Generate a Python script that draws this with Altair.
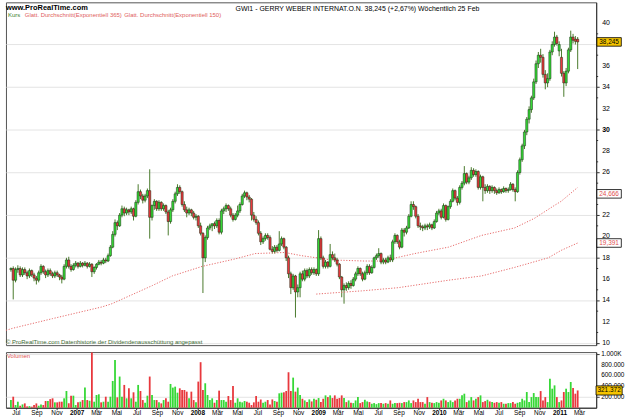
import altair as alt
import pandas as pd

# ---------------- data (weekly candles, GWI1) ----------------
opens = [16.9,17.0,15.9,16.9,17.0,16.4,16.9,16.6,16.3,16.8,
         16.4,16.1,15.9,16.6,17.2,16.7,16.4,16.8,16.5,16.3,
         16.6,16.4,16.2,16.0,17.2,17.8,17.2,16.9,17.3,17.5,
         17.2,17.5,17.3,17.5,17.2,17.4,16.7,17.1,17.4,17.6,
         17.5,17.8,17.7,18.2,19.0,20.2,21.3,21.0,22.0,22.6,
         22.2,22.5,22.3,22.6,21.9,23.2,24.2,23.8,23.4,23.8,
         24.3,21.8,22.9,23.3,22.6,23.2,22.6,22.9,22.3,21.4,
         22.5,23.3,24.0,24.6,24.2,23.0,22.5,22.2,22.5,22.2,
         21.8,21.9,21.0,20.3,18.0,19.9,20.8,21.0,21.2,21.0,
         21.5,20.4,22.4,22.6,22.9,22.6,22.0,21.6,22.0,22.4,
         23.0,23.8,24.1,23.7,23.5,22.0,21.6,21.3,20.3,19.5,
         19.8,20.1,19.9,18.8,18.6,19.0,18.7,19.3,19.8,19.0,
         18.0,16.5,15.2,16.3,14.8,15.2,16.5,16.0,16.8,16.3,
         16.9,16.6,16.9,16.5,19.8,18.0,17.2,17.6,17.2,18.3,
         18.0,17.8,17.4,16.2,15.0,15.4,15.2,15.6,15.4,16.0,
         16.5,17.0,16.5,16.0,16.6,17.2,16.6,17.1,18.0,18.2,
         18.4,17.6,17.8,17.6,18.0,17.8,19.5,20.1,19.5,19.0,
         20.6,20.4,20.8,21.9,23.0,22.8,21.9,21.0,20.9,20.8,
         21.0,20.9,21.1,20.8,21.4,22.2,22.4,21.8,22.9,21.6,
         22.8,23.3,24.3,23.6,23.2,24.6,25.0,25.9,25.1,25.5,
         26.2,25.8,26.1,24.6,25.6,24.6,24.3,24.7,24.3,24.6,
         24.3,24.1,24.4,24.2,24.5,24.3,24.4,24.9,24.4,24.2,
         26.0,27.2,28.5,29.8,31.0,31.9,33.0,34.5,36.2,37.0,
         36.8,35.2,34.4,34.8,37.3,38.0,38.7,37.4,36.8,35.3,
         34.4,35.5,37.5,38.7,38.5,38.5]
highs = [17.1,17.2,17.1,17.3,17.2,17.1,17.1,16.8,17.0,16.9,
         16.6,16.3,16.8,17.4,17.3,16.9,17.0,17.0,16.7,16.8,
         16.8,16.5,16.4,17.4,18.0,18.1,17.4,17.5,17.7,17.6,
         17.7,17.6,17.7,17.6,17.6,17.5,17.2,17.5,17.8,17.8,
         18.0,18.0,18.4,19.2,20.5,21.6,21.5,22.2,22.9,22.8,
         22.7,22.6,22.8,22.7,23.4,24.9,24.4,24.0,24.0,24.5,
         26.3,23.0,23.5,23.4,23.4,23.3,23.1,23.0,22.5,22.7,
         23.5,24.2,24.9,24.8,24.3,23.3,22.8,22.7,22.6,22.4,
         22.1,22.0,21.3,20.4,20.1,21.0,21.2,21.2,21.4,21.7,
         21.7,22.6,22.8,23.1,23.0,22.8,22.2,22.2,22.9,23.2,
         24.0,24.3,24.2,23.9,23.6,22.3,21.9,21.5,20.5,20.0,
         20.3,20.3,20.1,19.1,19.2,19.2,20.5,20.0,19.9,19.1,
         18.2,16.7,16.5,16.4,15.5,16.7,16.8,17.0,17.0,17.1,
         17.1,17.1,17.0,20.6,20.0,18.2,17.8,17.7,19.3,18.6,
         18.4,18.0,17.5,16.3,15.6,15.7,15.8,15.9,16.2,16.7,
         17.2,17.1,16.7,16.8,17.4,17.4,17.3,18.1,18.4,18.9,
         18.5,18.0,18.0,18.2,18.3,19.7,20.3,20.2,19.7,20.8,
         20.8,21.0,22.1,23.3,23.3,22.9,22.1,21.3,21.1,21.2,
         21.2,21.3,21.2,21.6,22.4,22.6,22.6,23.1,23.0,22.9,
         23.5,24.5,24.4,23.8,24.8,25.2,26.6,26.0,25.7,26.5,
         26.4,26.3,26.2,25.8,25.7,24.9,24.9,24.8,24.8,24.7,
         24.5,24.6,24.5,24.7,24.6,24.6,25.1,25.0,24.6,26.2,
         27.4,28.7,30.0,31.2,32.2,33.2,34.8,36.5,37.3,37.6,
         37.1,35.6,35.3,37.5,38.3,39.2,38.9,38.3,37.6,35.5,
         35.8,37.7,39.3,39.0,38.8,38.7]
lows = [16.7,14.1,15.7,16.6,16.2,16.2,16.4,16.0,16.1,16.2,
        15.8,15.5,15.7,16.4,16.5,16.1,16.2,16.3,16.1,16.1,
        16.2,15.9,15.6,15.9,17.0,17.0,16.7,16.8,17.1,17.0,
        17.1,17.1,17.2,17.0,17.1,16.2,16.5,16.9,17.3,17.3,
        17.4,17.5,17.6,18.1,18.9,20.0,20.6,20.9,21.8,21.9,
        22.0,22.0,22.1,21.5,21.8,23.0,23.5,23.1,23.2,23.6,
        19.8,21.5,22.5,22.4,22.4,22.4,22.4,22.1,20.1,21.2,
        22.3,23.1,23.8,24.0,22.8,22.3,21.8,22.0,21.9,21.6,
        21.5,20.8,20.1,14.7,17.6,19.7,20.6,20.5,20.7,20.8,
        20.2,20.2,22.1,22.3,22.4,21.8,21.4,21.5,21.8,22.2,
        22.9,23.6,23.4,23.2,21.5,21.4,21.1,20.1,19.2,19.3,
        19.6,19.7,18.7,18.4,18.4,18.5,18.6,19.1,18.8,17.7,
        16.1,14.6,15.0,12.4,14.3,14.3,15.8,15.8,16.1,16.1,
        16.4,16.4,16.3,16.3,17.8,17.0,17.0,17.0,17.1,17.8,
        17.6,17.2,16.0,14.3,13.7,14.9,15.0,15.1,15.3,15.8,
        16.3,16.3,15.8,15.9,16.4,16.4,16.5,17.0,17.8,18.0,
        17.4,17.4,17.4,17.5,17.6,17.6,19.3,19.3,18.8,18.9,
        20.0,20.2,20.7,21.8,22.5,21.7,20.8,20.6,20.5,20.6,
        20.6,20.7,20.6,20.7,21.3,22.0,21.6,21.7,21.4,21.5,
        22.6,23.2,23.4,22.9,23.0,24.4,24.8,24.9,24.9,25.3,
        25.6,25.6,24.4,24.4,23.3,24.0,24.1,24.0,24.1,24.0,
        23.9,24.0,24.0,24.1,24.1,24.1,24.3,24.2,23.3,24.1,
        25.8,27.0,28.2,29.5,30.6,31.6,32.8,34.3,35.8,36.3,
        34.9,33.8,34.0,34.6,37.0,37.8,37.9,36.9,35.0,33.1,
        34.1,35.3,37.3,38.1,38.0,35.7]
closes = [17.0,15.9,16.9,17.0,16.4,16.9,16.6,16.3,16.8,16.4,
          16.1,15.9,16.6,17.2,16.7,16.4,16.8,16.5,16.3,16.6,
          16.4,16.2,16.0,17.2,17.8,17.2,16.9,17.3,17.5,17.2,
          17.5,17.3,17.5,17.2,17.4,16.7,17.1,17.4,17.6,17.5,
          17.8,17.7,18.2,19.0,20.2,21.3,21.0,22.0,22.6,22.2,
          22.5,22.3,22.6,21.9,23.2,24.2,23.8,23.4,23.8,24.3,
          21.8,22.9,23.3,22.6,23.2,22.6,22.9,22.3,21.4,22.5,
          23.3,24.0,24.6,24.2,23.0,22.5,22.2,22.5,22.2,21.8,
          21.9,21.0,20.3,18.0,19.9,20.8,21.0,21.2,21.0,21.5,
          20.4,22.4,22.6,22.9,22.6,22.0,21.6,22.0,22.4,23.0,
          23.8,24.1,23.7,23.5,22.0,21.6,21.3,20.3,19.5,19.8,
          20.1,19.9,18.8,18.6,19.0,18.7,19.3,19.8,19.0,18.0,
          16.5,15.2,16.3,14.8,15.2,16.5,16.0,16.8,16.3,16.9,
          16.6,16.9,16.5,19.8,18.0,17.2,17.6,17.2,18.3,18.0,
          17.8,17.4,16.2,15.0,15.4,15.2,15.6,15.4,16.0,16.5,
          17.0,16.5,16.0,16.6,17.2,16.6,17.1,18.0,18.2,18.4,
          17.6,17.8,17.6,18.0,17.8,19.5,20.1,19.5,19.0,20.6,
          20.4,20.8,21.9,23.0,22.8,21.9,21.0,20.9,20.8,21.0,
          20.9,21.1,20.8,21.4,22.2,22.4,21.8,22.9,21.6,22.8,
          23.3,24.3,23.6,23.2,24.6,25.0,25.9,25.1,25.5,26.2,
          25.8,26.1,24.6,25.6,24.6,24.3,24.7,24.3,24.6,24.3,
          24.1,24.4,24.2,24.5,24.3,24.4,24.9,24.4,24.2,26.0,
          27.2,28.5,29.8,31.0,31.9,33.0,34.5,36.2,37.0,36.8,
          35.2,34.4,34.8,37.3,38.0,38.7,38.1,38.0,35.3,34.4,
          35.5,37.5,38.7,38.4,38.3,38.245]
volumes_k = [143,205,50,112,37,62,81,25,30,20,
             50,80,37,62,50,125,125,160,175,100,
             100,112,112,175,311,81,224,224,50,100,
             112,143,374,143,130,1028,112,237,250,100,
             112,205,112,205,498,890,193,580,205,424,
             175,361,175,287,112,424,311,143,93,224,
             580,237,143,143,100,81,143,175,112,442,
             374,392,280,361,330,330,299,175,299,143,
             100,486,847,330,455,237,143,175,93,143,
             318,143,143,112,218,143,405,93,175,112,
             100,125,112,93,50,100,218,112,155,93,
             112,143,62,155,125,112,268,280,287,311,
             660,311,560,299,374,237,
             167,136,105,155,117,167,148,180,105,167,
             230,198,230,180,230,167,180,230,180,105,
             136,92,86,136,198,86,105,148,117,105,
             74,86,67,86,86,74,86,74,136,74,
             86,86,92,86,105,105,136,86,136,105,
             167,105,105,74,198,105,92,86,105,92,
             136,167,136,105,136,105,136,167,167,230,
             261,105,136,198,136,167,198,230,105,123,
             148,117,105,92,105,92,105,74,74,86,
             86,105,74,92,105,167,136,292,105,198,
             273,198,198,310,136,198,105,541,354,416,
             198,105,136,292,354,292,479,366,261,321.372]

ema365_dates = ["2006-06-01", "2006-06-22", "2006-10-20", "2007-03-19", "2007-04-18",
                "2007-08-18", "2007-10-17", "2008-01-16", "2008-04-25", "2008-06-24",
                "2008-09-22", "2008-11-12", "2009-02-11", "2009-05-21", "2009-07-12",
                "2009-10-20", "2010-01-30", "2010-05-10", "2010-08-18", "2010-10-17",
                "2010-12-16", "2011-01-06", "2011-02-25"]
ema365_values = [11.2, 11.4, 12.3, 13.4, 13.7, 15.4, 16.3, 17.2, 17.9, 18.4,
                 18.5, 18.2, 17.8, 17.7, 17.7, 18.4, 19.0, 20.1, 20.8, 21.7,
                 22.9, 23.3, 24.6]
ema150_dates = ["2008-12-26", "2009-05-12", "2009-08-31", "2010-01-30", "2010-05-10",
                "2010-08-18", "2010-11-28", "2011-01-06", "2011-02-25"]
ema150_values = [14.6, 14.9, 15.2, 15.9, 16.3, 17.1, 18.0, 18.7, 19.39]

price_ticks = list(range(10, 41, 2))
price_labels = [v for v in price_ticks if v not in (24, 38)]   # 24 and 38 sit under value boxes
minor_ticks = list(range(11, 41, 2))
vol_ticks = [200000, 400000, 600000, 800000, 1000000]
vol_labels = ["200.000", "400.000", "600.000", "800.000", "1.000K"]
last_price = 38.245
ema_last = [("24,666", 24.0), ("19,391", 19.391)]
last_volume = 321372

month_ticks = [alt.DateTime(year=y, month=m, date=1)
               for y in range(2006, 2012) for m in (1, 3, 5, 7, 9, 11)
               if (y, m) >= (2006, 7) and (y, m) <= (2011, 3)]

# ---------------- frames ----------------
n = len(closes)
dates = pd.date_range(end="2011-02-25", periods=n, freq="7D")
df = pd.DataFrame({"date": dates, "open": opens, "high": highs, "low": lows,
                   "close": closes, "volume": [v * 1000 for v in volumes_k]})
df["dir"] = ["up" if c >= o else "down" for o, c in zip(opens, closes)]
ema365 = pd.DataFrame({"date": pd.to_datetime(ema365_dates), "value": ema365_values})
ema150 = pd.DataFrame({"date": pd.to_datetime(ema150_dates), "value": ema150_values})

W, PH, VH = 594, 345, 56
FONT = "Liberation Sans"
xscale = alt.Scale(domain=[alt.DateTime(year=2006, month=6, date=1),
                           alt.DateTime(year=2011, month=4, date=22)], padding=0)
yscale = alt.Scale(domain=[9.814, 41.957], nice=False, zero=False, padding=0)
dir_color = alt.Color("dir:N", scale=alt.Scale(domain=["up", "down"],
                      range=["#36d836", "#e8383d"]), legend=None)

base = alt.Chart(df)
wicks = base.mark_rule(color="#4a7a2c", strokeWidth=1).encode(
    x=alt.X("date:T", scale=xscale, axis=None),
    y=alt.Y("low:Q", scale=yscale, axis=alt.Axis(
        orient="right", values=price_ticks, grid=True, gridColor="#e4e4e4",
        gridWidth=1, domainColor="#333333", tickColor="#333333", tickSize=3,
        labels=False, title=None)),
    y2="high:Q")
bodies = base.mark_bar(size=2.2, stroke="#142a10", strokeWidth=0.5).encode(
    x="date:T", y="open:Q", y2="close:Q", color=dir_color)
line365 = alt.Chart(ema365).mark_line(color="#e66a6a", strokeDash=[1.2, 1.6],
                                      strokeWidth=1).encode(x="date:T", y="value:Q")
line150 = alt.Chart(ema150).mark_line(color="#e66a6a", strokeDash=[1.2, 1.6],
                                      strokeWidth=1).encode(x="date:T", y="value:Q")
minor = alt.Chart(pd.DataFrame({"v": minor_ticks})).mark_rule(
    color="#333333", strokeWidth=1).encode(
    y="v:Q", x=alt.value(W), x2=alt.value(W + 2))

plab = pd.DataFrame({"v": price_labels, "t": [str(v) for v in price_labels],
                     "w": ["bold" if v == 30 else "normal" for v in price_labels]})
ylabels = alt.Chart(plab).mark_text(font=FONT, fontSize=7, color="#000000",
                                    align="left", baseline="middle").encode(
    x=alt.value(W + 6), y="v:Q", text="t:N")
ylabel30 = alt.Chart(plab[plab["w"] == "bold"]).mark_text(
    font=FONT, fontSize=7, color="#000000", fontWeight="bold",
    align="left", baseline="middle").encode(x=alt.value(W + 6), y="v:Q", text="t:N")
plab_normal = plab[plab["w"] == "normal"]
ylabels = alt.Chart(plab_normal).mark_text(font=FONT, fontSize=7, color="#000000",
                                           align="left", baseline="middle").encode(
    x=alt.value(W + 6), y="v:Q", text="t:N")

one = alt.Data(values=[{}])
def label(txt, px, py, size=7, color="#000000", weight="normal", align="left"):
    return alt.Chart(one).mark_text(
        text=txt, font=FONT, fontSize=size, color=color, fontWeight=weight,
        align=align, baseline="middle").encode(x=alt.value(px), y=alt.value(py))

texts = [
    label("www.ProRealTime.com", 0, 6, size=7.5, weight="bold"),
    label("GWI1 - GERRY WEBER INTERNAT.O.N.  38,245 (+2,67%)   Wöchentlich 25 Feb",
          231, 7, size=7),
    label("Kurs", 2, 13, size=6, color="#3a7d2e"),
    label("Glatt. Durchschnitt(Exponentiell 365)", 19, 13, size=6, color="#e06060"),
    label("Glatt. Durchschnitt(Exponentiell 150)", 119, 13, size=6, color="#e06060"),
    label("© ProRealTime.com  Datenhistorie der Dividendenausschüttung angepasst",
          0, 342, size=6, color="#3d6b35"),
]

BOX = "M-1.2,-0.42H1.2V0.42H-1.2Z"
def value_box(txt, val, fill, txtcolor, size=420):
    d = alt.Chart(one)
    box = d.mark_point(shape=BOX, size=size, filled=True, fill=fill, stroke="#000000",
                       strokeWidth=0.8, opacity=1).encode(
        x=alt.value(W + 13), y=alt.datum(val))
    t = d.mark_text(text=txt, font=FONT, fontSize=6.5, color=txtcolor,
                    align="center", baseline="middle").encode(
        x=alt.value(W + 13), y=alt.datum(val))
    return [box, t]

boxes = (value_box("38,245", last_price, "#f5c400", "#000000")
         + value_box(ema_last[0][0], ema_last[0][1], "#ffffff", "#e05050")
         + value_box(ema_last[1][0], ema_last[1][1], "#ffffff", "#e05050"))

price = alt.layer(wicks, line365, line150, bodies, minor, ylabels, ylabel30,
                  *texts, *boxes).properties(width=W, height=PH)

# ---------------- volume panel ----------------
vscale = alt.Scale(domain=[0, 1035000], nice=False, padding=0)
vol = alt.Chart(df).mark_bar(size=1.8).encode(
    x=alt.X("date:T", scale=xscale, axis=alt.Axis(
        values=month_ticks, grid=False, tickSize=2, tickColor="#333333",
        domainColor="#333333", labelFontSize=6.5, labelFont=FONT, labelColor="#000000",
        labelPadding=0, title=None, labelAngle=0, labelOverlap=False,
        labelExpr="month(datum.value) == 0 ? timeFormat(datum.value, '%Y') : "
                  "['Jan','Feb','Mär','Apr','Mai','Jun','Jul','Aug','Sep','Okt','Nov','Dez'][month(datum.value)]",
        labelFontWeight={"condition": {"test": "month(datum.value) == 0", "value": "bold"},
                         "value": "normal"})),
    y=alt.Y("volume:Q", scale=vscale, axis=alt.Axis(
        orient="right", values=vol_ticks, grid=True, gridColor="#e4e4e4",
        domainColor="#333333", tickColor="#333333", tickSize=3,
        labels=False, title=None)),
    color=dir_color)
vlab = pd.DataFrame({"v": vol_ticks, "t": vol_labels})
vlabels = alt.Chart(vlab).mark_text(font=FONT, fontSize=6.5, color="#000000",
                                    align="left", baseline="middle").encode(
    x=alt.value(W + 5), y="v:Q", text="t:N")
vol_label = label("Volumen", 1, 4, size=6, color="#e05050")
vol_box = value_box("321.372", last_volume, "#f5c400", "#000000", size=480)
volume = alt.layer(vol, vlabels, vol_label, *vol_box).properties(width=W, height=VH)

chart = alt.vconcat(price, volume, spacing=3).properties(
    padding={"left": 3, "top": 0, "right": 0, "bottom": 0},
    background="#ffffff"
).configure_view(stroke="#555555", strokeWidth=1)

chart.save("out.html", embed_options={"renderer": "svg", "actions": False})
